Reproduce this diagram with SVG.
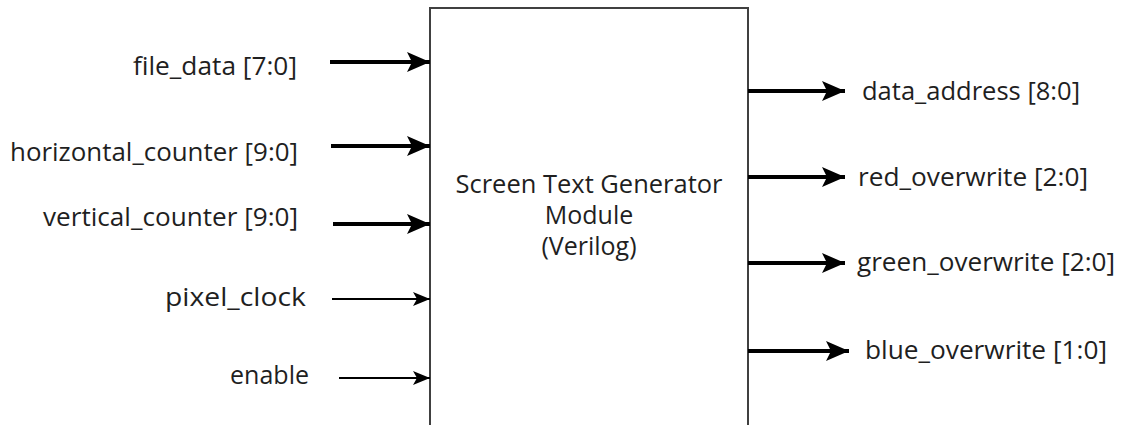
<svg xmlns="http://www.w3.org/2000/svg" width="1123" height="425" viewBox="0 0 1123 425">
<style>
.lbl{font-family:"Open Sans","Liberation Sans",sans-serif;font-size:25px;fill:#1f1f1f}
.thick{stroke:#000;stroke-width:4;fill:none}
.thin{stroke:#000;stroke-width:2;fill:none}
</style>
<defs>
<marker id="ah" markerUnits="userSpaceOnUse" markerWidth="23" markerHeight="20" refX="23" refY="10" orient="auto">
<path d="M0,0 L23,10 L0,20 L5,10 Z" fill="#000"/>
</marker>
<marker id="ahs" markerUnits="userSpaceOnUse" markerWidth="17" markerHeight="14" refX="17" refY="7" orient="auto">
<path d="M0,0 L17,7 L0,14 L4,7 Z" fill="#000"/>
</marker>
</defs>
<rect width="1123" height="425" fill="#fff"/>
<g id="module">
<rect x="430" y="8" width="318" height="430" fill="#fff" stroke="#404040" stroke-width="2"/>
<text class="lbl" x="589" y="193" text-anchor="middle" textLength="267" lengthAdjust="spacingAndGlyphs">Screen Text Generator</text>
<text class="lbl" x="589" y="224" text-anchor="middle">Module</text>
<text class="lbl" x="589" y="255" text-anchor="middle">(Verilog)</text>
</g>
<g id="connectors">
<line class="thick" x1="330" y1="62" x2="430" y2="62" marker-end="url(#ah)"/>
<line class="thick" x1="331" y1="146" x2="430" y2="146" marker-end="url(#ah)"/>
<line class="thick" x1="333" y1="224" x2="430" y2="224" marker-end="url(#ah)"/>
<line class="thin" x1="332" y1="299" x2="430" y2="299" marker-end="url(#ahs)"/>
<line class="thin" x1="339" y1="378" x2="430" y2="378" marker-end="url(#ahs)"/>
<line class="thick" x1="748" y1="91" x2="845" y2="91" marker-end="url(#ah)"/>
<line class="thick" x1="748" y1="177" x2="845" y2="177" marker-end="url(#ah)"/>
<line class="thick" x1="748" y1="263" x2="845" y2="263" marker-end="url(#ah)"/>
<line class="thick" x1="748" y1="351" x2="849" y2="351" marker-end="url(#ah)"/>
</g>
<g id="in_file_data"><text class="lbl" x="133" y="75" textLength="164" lengthAdjust="spacingAndGlyphs">file_data [7:0]</text></g>
<g id="in_horizontal_counter"><text class="lbl" x="10" y="161" textLength="288" lengthAdjust="spacingAndGlyphs">horizontal_counter [9:0]</text></g>
<g id="in_vertical_counter"><text class="lbl" x="43" y="226" textLength="255" lengthAdjust="spacingAndGlyphs">vertical_counter [9:0]</text></g>
<g id="in_pixel_clock"><text class="lbl" x="165" y="306" textLength="141" lengthAdjust="spacingAndGlyphs">pixel_clock</text></g>
<g id="in_enable"><text class="lbl" x="230" y="384" textLength="79" lengthAdjust="spacingAndGlyphs">enable</text></g>
<g id="out_data_address"><text class="lbl" x="862" y="100" textLength="218" lengthAdjust="spacingAndGlyphs">data_address [8:0]</text></g>
<g id="out_red_overwrite"><text class="lbl" x="858" y="186" textLength="230" lengthAdjust="spacingAndGlyphs">red_overwrite [2:0]</text></g>
<g id="out_green_overwrite"><text class="lbl" x="857" y="271" textLength="258" lengthAdjust="spacingAndGlyphs">green_overwrite [2:0]</text></g>
<g id="out_blue_overwrite"><text class="lbl" x="865" y="359" textLength="242" lengthAdjust="spacingAndGlyphs">blue_overwrite [1:0]</text></g>
</svg>
